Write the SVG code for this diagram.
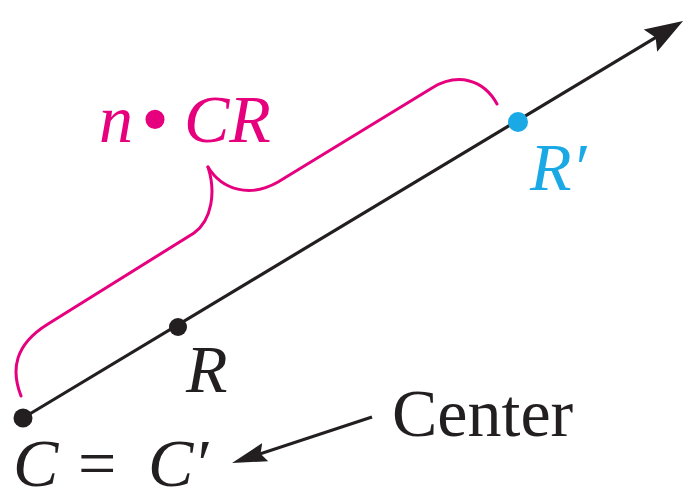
<svg xmlns="http://www.w3.org/2000/svg" width="685" height="493" viewBox="0 0 685 493">
<style>
  .ln{stroke:#231F20;stroke-width:3.2;fill:none}
  .br{stroke:#E6007E;stroke-width:3;fill:none;stroke-linecap:round}
  .t{font-family:"Liberation Serif","Times New Roman",serif;font-size:68px}
  .it{font-style:italic}
  .pk{fill:#E6007E}
  .bl{fill:#1BA9E6}
  .bk{fill:#231F20}
</style>
<defs>
  <marker id="ah" markerUnits="userSpaceOnUse" markerWidth="40" markerHeight="30" viewBox="0 -15 40 30" refX="18" refY="0" orient="auto">
    <path d="M38,0 L0,-13 L6,0 L0,13 Z" fill="#231F20"/>
  </marker>
  <marker id="ah2" markerUnits="userSpaceOnUse" markerWidth="40" markerHeight="24" viewBox="0 -12 40 24" refX="15" refY="0" orient="auto">
    <path d="M35,0 L0,-9.5 L5,0 L0,9.5 Z" fill="#231F20"/>
  </marker>
</defs>
<g id="connectors">
  <path class="ln" d="M23,418 L665.9,31.3" marker-end="url(#ah)"/>
  <path class="ln" d="M372,417 L251,456.8" marker-end="url(#ah2)"/>
</g>
<g id="brace">
  <path class="br" d="M21,396 C11,370 14,345 48,324 L194,233 C212,220 216,192 208,167"/>
  <path class="br" d="M208,167 C222,190 250,198 278,182 L432,88 C458,72 484,80 497,104"/>
  <text class="t it pk" x="99" y="142">n<tspan x="141" font-style="normal" font-size="80" dy="4">•</tspan><tspan x="184" dy="-4">CR</tspan></text>
</g>
<g id="C">
  <circle cx="23" cy="418" r="9.5" class="bk"/>
  <text class="t it bk" x="13" y="486">C<tspan x="78" font-style="normal">=</tspan><tspan x="148">C′</tspan></text>
</g>
<g id="R">
  <circle cx="178" cy="327" r="9" class="bk"/>
  <text class="t it bk" x="186" y="392">R</text>
</g>
<g id="Rp">
  <circle cx="518" cy="122" r="10" class="bl"/>
  <text class="t it bl" x="530" y="190">R′</text>
</g>
<g id="center">
  <text class="t bk" x="392" y="436" font-size="70">Center</text>
</g>
</svg>
